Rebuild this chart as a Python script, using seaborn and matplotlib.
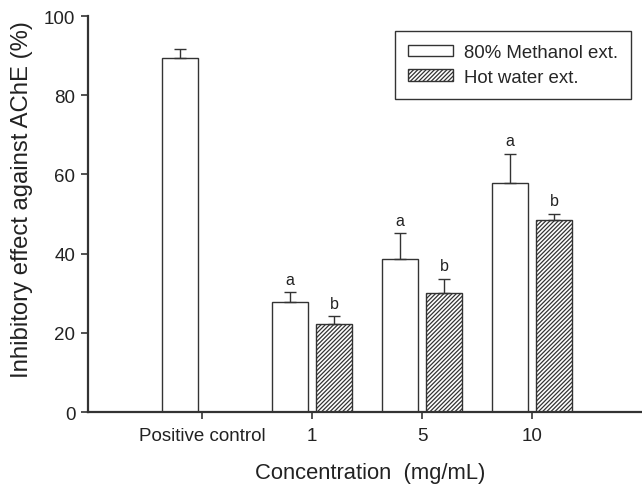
import matplotlib
matplotlib.use("Agg")
import matplotlib.pyplot as plt
import seaborn as sns
import pandas as pd
from matplotlib.patches import Patch

# ---- data ----
categories = ["Positive control", "1", "5", "10"]
methanol = [89.5, 27.7, 38.6, 57.8]
methanol_err = [2.1, 2.5, 6.5, 7.4]
methanol_letters = ["", "a", "a", "a"]
hot_categories = ["1", "5", "10"]
hot_water = [22.2, 30.0, 48.6]
hot_err = [2.0, 3.6, 1.4]
hot_letters = ["b", "b", "b"]
series_names = ["80% Methanol ext.", "Hot water ext."]
yticks = [0, 20, 40, 60, 80, 100]

rows = [(c, series_names[0], v) for c, v in zip(categories, methanol)]
rows += [(c, series_names[1], v) for c, v in zip(hot_categories, hot_water)]
df = pd.DataFrame(rows, columns=["cat", "series", "value"])

sns.set_style("ticks")
plt.rcParams["font.family"] = ["Liberation Sans", "DejaVu Sans"]
plt.rcParams["hatch.linewidth"] = 0.9

dark = "#333333"
fig = plt.figure(figsize=(6.42, 4.89), dpi=100)
ax = fig.add_axes([0.137, 0.1554, 0.863, 0.8098])

sns.barplot(data=df, x="cat", y="value", hue="series", order=categories,
            hue_order=series_names, palette=["white", "white"],
            edgecolor=dark, linewidth=1.0, width=0.8, gap=0.18,
            errorbar=None, legend=False, ax=ax)

hatch = "////////"
for p in ax.containers[1]:
    p.set_hatch(hatch)

errs = [methanol_err, hot_err]
letters = [methanol_letters, hot_letters]
for cont, err, lab in zip(ax.containers, errs, letters):
    xs = [p.get_x() + p.get_width() / 2 for p in cont]
    ys = [p.get_height() for p in cont]
    ax.errorbar(xs, ys, yerr=[[0] * len(err), err], fmt="none",
                ecolor=dark, elinewidth=1.0, capsize=4.3, capthick=1.0,
                zorder=1)
    for x, y, e, t in zip(xs, ys, err, lab):
        if t:
            ax.text(x, y + e + 1.4, t, ha="center", va="bottom",
                    fontsize=11.5, color="#222222")

ax.set_xlim(-1.036, 4.0)
ax.set_ylim(0, 100)
ax.set_yticks(yticks)
ax.set_xlabel("Concentration  (mg/mL)", fontsize=15.8, color="#222222",
              labelpad=13, x=0.509)
ax.set_ylabel("Inhibitory effect against AChE (%)", fontsize=17.2,
              color="#222222", labelpad=8, y=0.538)
ax.tick_params(axis="both", direction="out", length=5, width=1.2,
               color=dark, labelsize=13.5, labelcolor="#222222", pad=4)
ax.tick_params(axis="x", pad=6)

sns.despine(ax=ax)
for s in ["left", "bottom"]:
    ax.spines[s].set_linewidth(1.6)
    ax.spines[s].set_color(dark)

handles = [Patch(facecolor="white", edgecolor=dark, linewidth=1.0),
           Patch(facecolor="white", edgecolor=dark, linewidth=1.0, hatch=hatch)]
leg = ax.legend(handles, series_names, loc="upper right",
                bbox_to_anchor=(0.98, 0.962), borderaxespad=0,
                fontsize=13.4, frameon=True, fancybox=False, shadow=False,
                handlelength=2.4, handleheight=0.55, labelspacing=0.4,
                borderpad=0.7, handletextpad=0.6)
leg.get_frame().set_edgecolor(dark)
leg.get_frame().set_linewidth(1.0)
leg.get_frame().set_alpha(1)

fig.savefig("out.png", dpi=100)
